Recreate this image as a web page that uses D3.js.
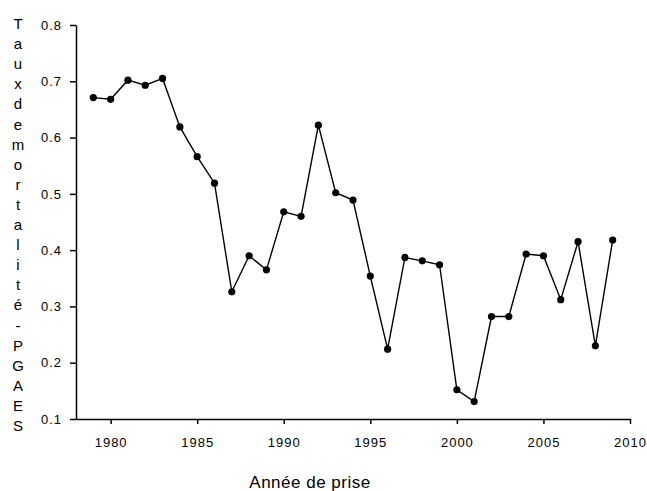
<!DOCTYPE html>
<html>
<head>
<meta charset="utf-8">
<script src="https://cdn.jsdelivr.net/npm/d3@7"></script>
<style>
    body { margin: 0; background: #fff; }
    text { font-family: "Liberation Sans", Arial, sans-serif; fill: #000; }
</style>
</head>
<body>
<svg id="chart" width="647" height="491"></svg>
<script>
// years of capture
const years = [1979, 1980, 1981, 1982, 1983, 1984, 1985, 1986, 1987, 1988,
    1989, 1990, 1991, 1992, 1993, 1994, 1995, 1996, 1997, 1998, 1999, 2000,
    2001, 2002, 2003, 2004, 2005, 2006, 2007, 2008, 2009];
// mortality rate
const rates = [0.671, 0.668, 0.702, 0.693, 0.705, 0.619, 0.566, 0.519, 0.326, 0.390,
    0.365, 0.468, 0.460, 0.622, 0.502, 0.489, 0.354, 0.224, 0.387, 0.381, 0.374, 0.152,
    0.131, 0.282, 0.282, 0.393, 0.390, 0.312, 0.415, 0.230, 0.418];
const xTicks = [1980, 1985, 1990, 1995, 2000, 2005, 2010];
const yTicks = [0.1, 0.2, 0.3, 0.4, 0.5, 0.6, 0.7, 0.8];
const yLabel = 'Tauxdemortalité-PGAES';
const xLabel = 'Année de prise';

const svg = d3.select('#chart');

const x = d3.scaleLinear().domain([1978, 2010]).range([76, 630]);
const y = d3.scaleLinear().domain([0.1, 0.8]).range([419, 25]);

// axes
const xAxis = svg.append('g')
    .attr('transform', 'translate(0,419)')
    .call(d3.axisBottom(x).tickValues(xTicks).tickFormat(d3.format('d'))
        .tickSizeInner(5).tickSizeOuter(0).tickPadding(14));
const yAxis = svg.append('g')
    .attr('transform', 'translate(76,0)')
    .call(d3.axisLeft(y).tickValues(yTicks).tickFormat(d3.format('.1f'))
        .tickSizeInner(6).tickSizeOuter(0).tickPadding(8));

[xAxis, yAxis].forEach(function(g) {
    g.select('.domain').attr('stroke', '#000').attr('stroke-width', 1.5);
    g.selectAll('.tick line').attr('stroke', '#000').attr('stroke-width', 1.5);
    g.selectAll('.tick text')
        .style('font-family', '"Liberation Sans", Arial, sans-serif')
        .style('font-size', '13px')
        .style('letter-spacing', '1px')
        .attr('fill', '#000');
});

// line
const pts = years.map(function(yr, i) { return [yr, rates[i]]; });
const line = d3.line()
    .x(function(d) { return x(d[0]); })
    .y(function(d) { return y(d[1]); });

svg.append('path')
    .datum(pts)
    .attr('d', line)
    .attr('fill', 'none')
    .attr('stroke', '#000')
    .attr('stroke-width', 1.4);

svg.selectAll('circle.pt')
    .data(pts)
    .enter().append('circle')
    .attr('class', 'pt')
    .attr('cx', function(d) { return x(d[0]); })
    .attr('cy', function(d) { return y(d[1]); })
    .attr('r', 3.6)
    .attr('fill', '#000');

// vertical stacked y label
svg.append('g').selectAll('text')
    .data(yLabel.split(''))
    .enter().append('text')
    .attr('x', 18)
    .attr('y', function(d, i) { return 29 + i * 20.1; })
    .attr('text-anchor', 'middle')
    .style('font-size', '15px')
    .text(function(d) { return d; });

svg.append('text')
    .attr('x', 310)
    .attr('y', 488)
    .attr('text-anchor', 'middle')
    .style('font-size', '17px')
    .style('letter-spacing', '0.5px')
    .text(xLabel);
</script>
</body>
</html>
